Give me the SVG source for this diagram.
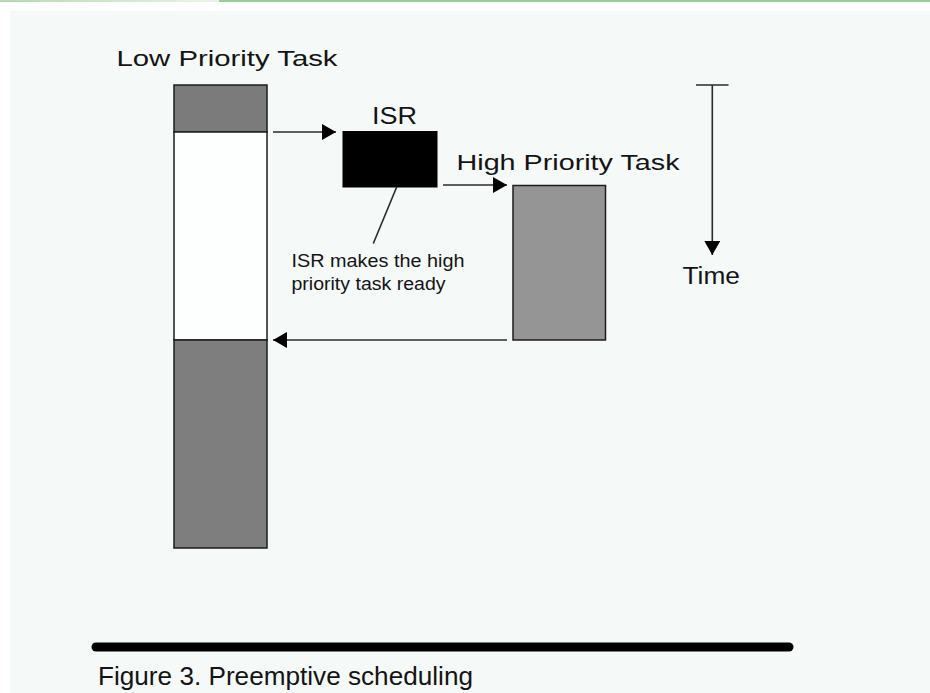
<svg xmlns="http://www.w3.org/2000/svg" width="930" height="693" viewBox="0 0 930 693">
  <defs>
    <linearGradient id="rule-fade" x1="0" y1="0" x2="1" y2="0">
      <stop offset="0" stop-color="#b2dbae"/>
      <stop offset="1" stop-color="#eaf5e8"/>
    </linearGradient>
    <marker id="head" viewBox="0 0 14 16" refX="14" refY="8" markerWidth="14" markerHeight="16" markerUnits="userSpaceOnUse" orient="auto">
      <path d="M0,0 L14,8 L0,16 Z" fill="#000"/>
    </marker>
    <style>
      .lbl { font-family: "Liberation Sans", Arial, sans-serif; fill: #141414; }
      .task { stroke: #1c1c1c; stroke-width: 1.5; }
      .conn { stroke: #2a2a2a; stroke-width: 1.6; fill: none; }
    </style>
  </defs>

  <!-- page -->
  <rect x="0" y="0" width="930" height="693" fill="#ffffff"/>
  <rect x="10" y="11" width="920" height="682" fill="#f5f9f8"/>
  <rect x="0" y="0" width="219" height="2" fill="url(#rule-fade)"/>
  <rect x="219" y="0" width="711" height="2" fill="#98cc94"/>

  <!-- low priority task timeline -->
  <g id="low-priority-task">
    <text class="lbl" x="116.5" y="66" font-size="22.5" textLength="221" lengthAdjust="spacingAndGlyphs">Low Priority Task</text>
    <rect class="task" x="174" y="85" width="93" height="47" fill="#7b7b7b"/>
    <rect class="task" x="174" y="132" width="93" height="208" fill="#fdfefe"/>
    <rect class="task" x="174" y="340" width="93" height="208" fill="#7d7e7d"/>
  </g>

  <!-- interrupt service routine -->
  <g id="isr">
    <text class="lbl" x="372" y="124" font-size="24" textLength="45" lengthAdjust="spacingAndGlyphs">ISR</text>
    <rect x="343" y="131.5" width="94" height="55.5" fill="#000" stroke="#000" stroke-width="1"/>
  </g>

  <!-- note on the ISR -->
  <g id="isr-note">
    <text class="lbl" x="291.5" y="267" font-size="17.5" textLength="173" lengthAdjust="spacingAndGlyphs">ISR makes the high</text>
    <text class="lbl" x="291.5" y="290" font-size="17.5" textLength="154" lengthAdjust="spacingAndGlyphs">priority task ready</text>
  </g>

  <!-- high priority task -->
  <g id="high-priority-task">
    <text class="lbl" x="456.5" y="169.5" font-size="22.5" textLength="223" lengthAdjust="spacingAndGlyphs">High Priority Task</text>
    <rect class="task" x="513" y="185.5" width="92.5" height="154.5" fill="#959595"/>
  </g>

  <!-- time axis -->
  <g id="time-axis">
    <line class="conn" x1="696" y1="85" x2="728.5" y2="85"/>
    <line class="conn" x1="712.3" y1="85" x2="712.3" y2="255" marker-end="url(#head)"/>
    <text class="lbl" x="682.5" y="283.5" font-size="23" textLength="57.5" lengthAdjust="spacingAndGlyphs">Time</text>
  </g>

  <!-- connectors -->
  <g id="connectors">
    <line class="conn" x1="273" y1="132" x2="336" y2="132" marker-end="url(#head)"/>
    <line class="conn" x1="443" y1="185" x2="507" y2="185" marker-end="url(#head)"/>
    <line class="conn" x1="507" y1="340" x2="273" y2="340" marker-end="url(#head)"/>
    <line class="conn" x1="396.7" y1="187" x2="373.3" y2="243.5" stroke-width="1.3"/>
  </g>

  <!-- caption -->
  <g id="caption">
    <line x1="96" y1="647" x2="789" y2="647" stroke="#000" stroke-width="9" stroke-linecap="round"/>
    <text class="lbl" x="98" y="685" font-size="26.5" textLength="375" lengthAdjust="spacingAndGlyphs">Figure 3. Preemptive scheduling</text>
  </g>
</svg>
